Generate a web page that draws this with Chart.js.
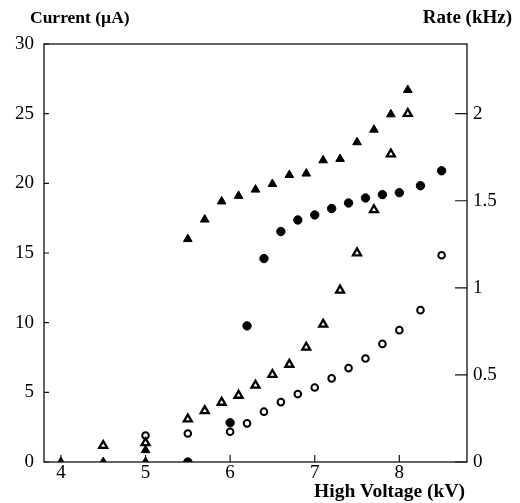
<!DOCTYPE html>
<html>
<head>
<meta charset="utf-8">
<script src="https://cdn.jsdelivr.net/npm/chart.js@4/dist/chart.umd.min.js"></script>
<style>
  html, body { margin: 0; padding: 0; background: #fff; }
  #wrap { position: relative; width: 520px; height: 503px; }
</style>
</head>
<body>
<div id="wrap"><canvas id="c" width="520" height="503"></canvas></div>
<script>
// ---- Data ----
// Current (µA), filled triangles
const curTriX = [4.0, 4.5, 5.0, 5.0, 5.5, 5.7, 5.9, 6.1, 6.3, 6.5, 6.7, 6.9, 7.1, 7.3, 7.5, 7.7, 7.9, 8.1];
const curTriY = [0, 0, 0, 0.85, 16.0, 17.4, 18.7, 19.1, 19.55, 19.95, 20.6, 20.7, 21.65, 21.75, 22.95, 23.85, 24.95, 26.7];
// Current (µA), filled circles
const curCirX = [5.5, 6.0, 6.2, 6.4, 6.6, 6.8, 7.0, 7.2, 7.4, 7.6, 7.8, 8.0, 8.25, 8.5];
const curCirY = [0, 2.82, 9.77, 14.6, 16.54, 17.37, 17.73, 18.19, 18.59, 18.95, 19.19, 19.33, 19.83, 20.9];
// Rate (kHz), open triangles
const rateTriX = [4.5, 5.0, 5.5, 5.7, 5.9, 6.1, 6.3, 6.5, 6.7, 6.9, 7.1, 7.3, 7.5, 7.7, 7.9, 8.1];
const rateTriY = [0.094, 0.11, 0.246, 0.294, 0.342, 0.382, 0.44, 0.502, 0.56, 0.658, 0.79, 0.986, 1.2, 1.448, 1.768, 2.0];
// Rate (kHz), open circles
const rateCirX = [5.0, 5.5, 6.0, 6.2, 6.4, 6.6, 6.8, 7.0, 7.2, 7.4, 7.6, 7.8, 8.0, 8.25, 8.5];
const rateCirY = [0.152, 0.164, 0.174, 0.222, 0.289, 0.344, 0.39, 0.428, 0.48, 0.539, 0.594, 0.678, 0.757, 0.872, 1.187];

// Tick labels
const xTicks = [4, 5, 6, 7, 8];
const currentTicks = [0, 5, 10, 15, 20, 25, 30];
const rateTicks = [0, 0.5, 1, 1.5, 2];

const xTitle = 'High Voltage (kV)';
const leftTitle = 'Current (\u00b5A)';
const rightTitle = 'Rate (kHz)';

// ---- Chart ----
const pts = (xs, ys) => xs.map((x, i) => ({ x: x, y: ys[i] }));
const FONT = "'Liberation Serif', 'Times New Roman', serif";

const frameAndTicks = {
  id: 'frameAndTicks',
  afterDraw(chart) {
    const ctx = chart.ctx;
    const a = chart.chartArea;
    ctx.save();
    ctx.strokeStyle = '#111';
    ctx.lineWidth = 1.3;
    ctx.strokeRect(a.left, a.top, a.right - a.left, a.bottom - a.top);
    ctx.lineWidth = 1.2;
    ctx.beginPath();
    const sx = chart.scales.x, sl = chart.scales.yL, sr = chart.scales.yR;
    xTicks.forEach(v => { const p = sx.getPixelForValue(v); ctx.moveTo(p, a.bottom); ctx.lineTo(p, a.bottom - 7); });
    currentTicks.forEach(v => { const p = sl.getPixelForValue(v); ctx.moveTo(a.left, p); ctx.lineTo(a.left + 5, p); });
    rateTicks.forEach(v => { const p = sr.getPixelForValue(v); ctx.moveTo(a.right, p); ctx.lineTo(a.right - 12, p); });
    ctx.stroke();
    // axis titles
    ctx.fillStyle = '#000';
    ctx.textBaseline = 'middle';
    ctx.textAlign = 'left';
    ctx.font = "bold 17.5px " + FONT;
    ctx.fillText(leftTitle, 30, 18);
    ctx.textAlign = 'right';
    ctx.font = "bold 19px " + FONT;
    ctx.fillText(rightTitle, 512, 18);
    ctx.font = "bold 19.5px " + FONT;
    ctx.fillText(xTitle, 465, 492);
    ctx.restore();
  }
};

new Chart(document.getElementById('c'), {
  type: 'scatter',
  data: {
    datasets: [
      { label: 'Current', data: pts(curTriX, curTriY), yAxisID: 'yL', pointStyle: 'triangle', pointRadius: 5, backgroundColor: '#000', borderColor: '#000', borderWidth: 1 },
      { label: 'Current', data: pts(curCirX, curCirY), yAxisID: 'yL', pointStyle: 'circle', pointRadius: 4.2, backgroundColor: '#000', borderColor: '#000', borderWidth: 1 },
      { label: 'Rate', data: pts(rateTriX, rateTriY), yAxisID: 'yR', pointStyle: 'triangle', pointRadius: 4.6, backgroundColor: '#fff', borderColor: '#000', borderWidth: 2.3 },
      { label: 'Rate', data: pts(rateCirX, rateCirY), yAxisID: 'yR', pointStyle: 'circle', pointRadius: 3.3, backgroundColor: '#fff', borderColor: '#000', borderWidth: 2 }
    ]
  },
  options: {
    responsive: false,
    animation: false,
    layout: { padding: { top: 44, left: 0, right: 0, bottom: 0 } },
    plugins: { legend: { display: false }, tooltip: { enabled: false } },
    scales: {
      x: {
        type: 'linear', min: 3.8, max: 8.8,
        afterBuildTicks: s => { s.ticks = xTicks.map(v => ({ value: v })); },
        afterFit: s => { s.height = 41; },
        grid: { display: false, drawTicks: false },
        border: { display: false },
        ticks: { color: '#000', font: { family: FONT, size: 19 }, padding: 0, callback: v => String(v) }
      },
      yL: {
        type: 'linear', position: 'left', min: 0, max: 30,
        afterBuildTicks: s => { s.ticks = currentTicks.map(v => ({ value: v })); },
        afterFit: s => { s.width = 44; },
        grid: { display: false, drawTicks: false },
        border: { display: false },
        ticks: { color: '#000', font: { family: FONT, size: 19 }, padding: 10, callback: v => String(v) }
      },
      yR: {
        type: 'linear', position: 'right', min: 0, max: 2.4,
        afterBuildTicks: s => { s.ticks = rateTicks.map(v => ({ value: v })); },
        afterFit: s => { s.width = 53; },
        grid: { display: false, drawTicks: false },
        border: { display: false },
        ticks: { color: '#000', font: { family: FONT, size: 19 }, padding: 6, callback: v => String(v) }
      }
    }
  },
  plugins: [frameAndTicks]
});
</script>
</body>
</html>
